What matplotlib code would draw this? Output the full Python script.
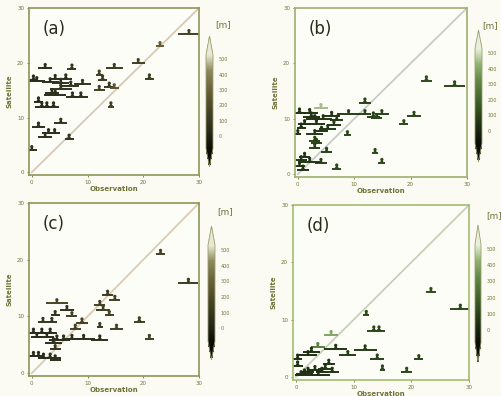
import numpy as np
import matplotlib
matplotlib.use("Agg")
import matplotlib.pyplot as plt
from matplotlib.colors import LinearSegmentedColormap, Normalize
from matplotlib.path import Path
from matplotlib.cm import ScalarMappable

# ---------------- data ----------------
a_obs = [28.2, 23.0, 19.1, 14.8, 21.1, 12.1, 12.7, 13.9, 14.8, 12.1, 14.2, 2.4, 7.2, 0.3, 0.9, 4.2, 6.1, 3.3, 5.2,
         9.1, 7.0, 5.2, 3.6, 4.2, 7.3, 8.8, 1.2, 1.8, 2.7, 3.9, 5.2, 1.2, 3.0, 4.1, 2.4, 6.7, 0.0]
a_sat = [25.2, 23.0, 19.9, 19.0, 17.1, 17.8, 16.9, 15.6, 15.3, 15.0, 12.0, 19.0, 18.9, 16.9, 16.6, 17.0, 17.1, 16.4,
         16.3, 16.1, 15.8, 15.2, 14.4, 14.1, 13.8, 13.8, 12.9, 12.0, 12.0, 12.0, 9.0, 8.3, 7.1, 7.1, 6.4, 6.1, 4.0]
a_err = [2.0, 0.8, 1.2, 1.5, 0.8, 0.6, 0.8, 1.0, 0.8, 1.0, 0.6, 1.2, 0.8, 0.8, 1.5, 1.2, 1.2, 1.5, 1.5,
         1.5, 1.5, 2.0, 1.2, 2.0, 1.2, 1.2, 0.8, 1.2, 1.0, 1.0, 1.2, 1.2, 1.2, 1.0, 1.2, 0.8, 1.0]
a_elev = [150, 280, 150, 120, 130, 150, 130, 120, 250, 150, 150, 60, 100, 40, 40, 60, 60, 60, 80,
          80, 80, 80, 60, 60, 60, 60, 50, 50, 50, 50, 80, 60, 60, 60, 60, 80, 80]

b_obs = [27.8, 22.8, 11.9, 11.9, 13.4, 14.9, 14.0, 9.0, 20.6, 18.8, 8.8, 13.7, 14.9, 6.9, 4.1, 4.1, 0.3, 2.1, 2.4,
         3.0, 4.5, 6.0, 0.6, 1.2, 3.3, 4.2, 5.3, 6.4, 6.9, 0.0, 3.0, 3.0, 3.0, 3.3, 5.1, 1.2, 0.6, 2.1, 0.3, 0.9]
b_sat = [16.0, 16.9, 12.9, 10.8, 10.4, 10.8, 10.1, 10.8, 10.5, 9.0, 7.0, 3.8, 2.0, 1.0, 2.0, 11.9, 11.1, 11.0, 10.4,
         9.9, 9.9, 10.5, 8.4, 9.0, 9.0, 7.8, 8.1, 8.8, 9.8, 7.2, 7.2, 6.0, 4.7, 5.6, 4.0, 3.1, 2.5, 2.2, 1.4, 0.8]
b_err = [1.8, 1.0, 1.0, 1.0, 1.2, 1.2, 1.0, 2.0, 1.2, 0.8, 0.6, 0.6, 0.6, 0.8, 1.0, 1.2, 1.2, 1.5, 1.5,
         1.5, 1.5, 1.5, 0.8, 1.2, 1.5, 1.2, 1.5, 1.2, 1.2, 0.6, 1.5, 1.0, 1.0, 1.0, 1.0, 1.0, 1.0, 2.0, 1.0, 1.0]
b_elev = [120, 130, 100, 100, 100, 110, 110, 90, 110, 120, 120, 120, 120, 120, 100, 450, 40, 50, 50,
          60, 60, 60, 40, 40, 60, 60, 70, 70, 70, 50, 70, 100, 100, 100, 100, 60, 60, 60, 60, 60]

c_obs = [28.1, 23.1, 13.6, 14.9, 12.2, 12.8, 13.9, 19.3, 12.2, 15.2, 21.1, 4.5, 6.3, 4.2, 7.2, 2.0, 3.6, 9.0, 7.8,
         0.3, 1.8, 3.3, 0.9, 2.7, 4.5, 5.7, 7.2, 9.3, 12.2, 3.9, 4.2, 0.3, 1.2, 2.1, 3.3, 4.2]
c_sat = [15.9, 21.0, 13.8, 12.9, 12.0, 11.1, 10.2, 9.1, 8.1, 7.8, 6.0, 12.3, 11.1, 10.2, 10.0, 9.0, 9.0, 8.9, 7.8,
         7.1, 7.1, 7.1, 6.3, 6.3, 5.9, 5.9, 6.0, 6.0, 5.9, 5.4, 4.2, 3.0, 3.0, 2.7, 2.7, 2.4]
c_err = [1.8, 0.8, 1.0, 1.0, 1.0, 1.2, 0.8, 1.0, 0.5, 1.2, 0.8, 2.0, 1.2, 0.8, 1.0, 0.8, 1.0, 1.0, 1.0,
         1.0, 1.0, 1.2, 1.0, 1.2, 1.5, 1.2, 1.5, 2.0, 1.5, 1.5, 1.0, 1.0, 1.0, 1.0, 2.0, 1.0]
c_elev = [130, 150, 130, 150, 150, 140, 150, 140, 120, 150, 150, 180, 80, 80, 150, 100, 100, 150, 150,
          40, 40, 40, 40, 40, 60, 60, 60, 60, 60, 60, 100, 40, 40, 40, 60, 60]

d_obs = [28.5, 23.4, 12.2, 13.5, 14.4, 6.1, 3.8, 6.9, 9.0, 12.0, 14.1, 21.3, 15.0, 19.2, 2.1, 2.7, 0.3, 0.3, 0.9,
         2.1, 3.3, 4.5, 5.1, 6.3, 1.5, 3.9, 5.7]
d_sat = [11.9, 14.8, 10.8, 8.1, 8.1, 7.3, 5.2, 4.9, 3.8, 4.8, 3.2, 3.1, 1.3, 0.9, 3.8, 4.4, 3.2, 2.0, 0.3,
         0.9, 1.2, 0.9, 1.5, 0.9, 0.6, 0.3, 2.3]
d_err = [1.8, 0.8, 0.5, 1.2, 1.0, 1.2, 1.2, 2.0, 1.5, 2.0, 1.2, 0.8, 0.5, 1.0, 1.5, 1.5, 0.8, 1.0, 1.0,
         1.0, 1.2, 1.0, 1.2, 1.2, 1.5, 2.0, 1.0]
d_elev = [120, 130, 120, 120, 120, 400, 300, 60, 80, 80, 100, 110, 120, 120, 40, 40, 40, 40, 40,
          40, 40, 40, 60, 60, 40, 40, 60]

panel_labels = ["(a)", "(b)", "(c)", "(d)"]
axis_ticks = [0, 10, 20, 30]
cbar_ticks = [0, 100, 200, 300, 400, 500]

# ---------------- style ----------------
fig = plt.figure(figsize=(5.01, 3.96), dpi=100, facecolor="#fbfbf3")
W, H = 501.0, 396.0

def box(l, t, r, b):
    return [l / W, 1 - b / H, (r - l) / W, (b - t) / H]

olive_cmap = LinearSegmentedColormap.from_list(
    "olive", ["#0c0c06", "#26281a", "#3a3c22", "#574f2c", "#6e6840", "#8c8a5c", "#e8e8d4"])
green_cmap = LinearSegmentedColormap.from_list(
    "green", ["#0a0f06", "#1b2a12", "#2f4a1c", "#476a30", "#628848", "#8fb070", "#e8f0dc"])

panels = [
    dict(x=a_obs, y=a_sat, e=a_err, z=a_elev, ax=box(29, 8, 199, 175), cb=box(206, 36, 213, 167),
         cmap=olive_cmap, spine="#8e9556", diag="#d8c8b8", m=(223, 25)),
    dict(x=b_obs, y=b_sat, e=b_err, z=b_elev, ax=box(295, 8, 467, 177), cb=box(475, 30, 482, 162),
         cmap=green_cmap, spine="#9db070", diag="#c8ccc8", m=(490, 26)),
    dict(x=c_obs, y=c_sat, e=c_err, z=c_elev, ax=box(29, 203, 199, 376), cb=box(208, 226, 215, 360),
         cmap=olive_cmap, spine="#8e9556", diag="#d8ccb4", m=(225, 212)),
    dict(x=d_obs, y=d_sat, e=d_err, z=d_elev, ax=box(293, 205, 469, 380), cb=box(475, 225, 481, 362),
         cmap=green_cmap, spine="#a4bc70", diag="#c8d0b8", m=(494, 216)),
]

# custom "mountain" marker: triangle with a ball on top, anchored at the base
tri = Path([(-0.6, 0), (0.6, 0), (0, 0.8), (-0.6, 0)],
           [Path.MOVETO, Path.LINETO, Path.LINETO, Path.CLOSEPOLY])
ball = Path.circle((0, 0.85), 0.38)
mount = Path.make_compound_path(tri, ball)

norm = Normalize(vmin=-80, vmax=530)
text_col = "#6e7438"

for i, p in enumerate(panels):
    ax = fig.add_axes(p["ax"])
    ax.set_facecolor("#fdfdf8")
    ax.plot([0, 30], [0, 30], color=p["diag"], lw=1.3, zorder=1)
    cols = p["cmap"](norm(np.array(p["z"])))
    for xi, yi, ei, ci in zip(p["x"], p["y"], p["e"], cols):
        ax.errorbar([xi], [yi], xerr=[ei], fmt="none", ecolor=ci, elinewidth=1.4, capsize=0, zorder=2)
    ax.scatter(p["x"], p["y"], c=p["z"], cmap=p["cmap"], norm=norm, marker=mount, s=58,
               linewidths=0, zorder=3)
    ax.set_xlim(-0.5, 30)
    ax.set_ylim(-0.5, 30)
    ax.set_xticks(axis_ticks)
    ax.set_yticks(axis_ticks)
    ax.tick_params(labelsize=4, colors=text_col, length=1.5, width=0.6, pad=2)
    for s in ax.spines.values():
        s.set_color(p["spine"])
        s.set_linewidth(1.2)
    ax.set_xlabel("Observation", fontsize=5, color=text_col, fontweight="bold", labelpad=1)
    ax.set_ylabel("Satellite", fontsize=5, color=text_col, fontweight="bold", labelpad=3)
    ax.text(0.08, 0.93, panel_labels[i], transform=ax.transAxes, fontsize=12,
            color="#2a2a1a", va="top", ha="left")

    cax = fig.add_axes(p["cb"])
    sm = ScalarMappable(norm=norm, cmap=p["cmap"])
    cb = fig.colorbar(sm, cax=cax, extend="both", extendfrac=0.2, ticks=cbar_ticks)
    cb.outline.set_edgecolor("#9aa070")
    cb.outline.set_linewidth(0.6)
    cax.tick_params(labelsize=3.5, colors=text_col, length=0, pad=4)
    fig.text(p["m"][0] / W, 1 - p["m"][1] / H, "[m]", fontsize=6.5, color=text_col,
             ha="center", va="center")

fig.savefig("out.png", dpi=100, facecolor=fig.get_facecolor())
